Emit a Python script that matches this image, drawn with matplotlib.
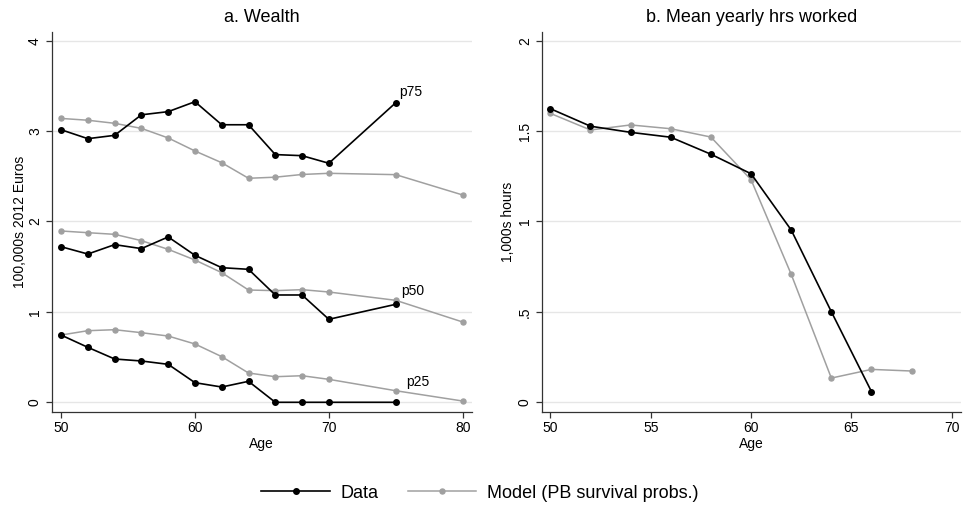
import matplotlib
matplotlib.use("Agg")
import matplotlib.pyplot as plt
from matplotlib.ticker import FixedLocator

plt.rcParams['font.family'] = ['Liberation Sans', 'DejaVu Sans']

# ---- Panel a: Wealth (100,000s 2012 Euros) ----
ages_data = [50, 52, 54, 56, 58, 60, 62, 64, 66, 68, 70, 75]
ages_model = [50, 52, 54, 56, 58, 60, 62, 64, 66, 68, 70, 75, 80]

data_p75 = [3.015, 2.916, 2.953, 3.18, 3.215, 3.325, 3.07, 3.07, 2.74, 2.728, 2.644, 3.314]
data_p50 = [1.721, 1.64, 1.744, 1.70, 1.829, 1.626, 1.489, 1.471, 1.187, 1.187, 0.918, 1.084]
data_p25 = [0.744, 0.608, 0.479, 0.457, 0.42, 0.217, 0.169, 0.232, 0.0, 0.0, 0.0, 0.0]

model_p75 = [3.14, 3.12, 3.086, 3.03, 2.924, 2.78, 2.65, 2.478, 2.49, 2.52, 2.533, 2.518, 2.293]
model_p50 = [1.895, 1.876, 1.858, 1.788, 1.692, 1.574, 1.434, 1.242, 1.235, 1.246, 1.22, 1.128, 0.888]
model_p25 = [0.744, 0.792, 0.803, 0.77, 0.733, 0.645, 0.505, 0.324, 0.283, 0.294, 0.254, 0.128, 0.014]

pct_labels = ["p75", "p50", "p25"]
pct_label_pos = [(75.24, 3.43), (75.4, 1.226), (75.74, 0.228)]

# ---- Panel b: Mean yearly hours worked (1,000s hours) ----
ages_hrs_data = [50, 52, 54, 56, 58, 60, 62, 64, 66]
hrs_data = [1.624, 1.527, 1.493, 1.466, 1.372, 1.264, 0.953, 0.501, 0.059]
ages_hrs_model = [50, 52, 54, 56, 58, 60, 62, 64, 66, 68]
hrs_model = [1.598, 1.506, 1.534, 1.513, 1.467, 1.231, 0.708, 0.134, 0.182, 0.173]

wealth_yticks = [0, 1, 2, 3, 4]
wealth_yticklabels = ["0", "1", "2", "3", "4"]
wealth_xticks = [50, 60, 70, 80]
hrs_yticks = [0, 0.5, 1, 1.5, 2]
hrs_yticklabels = ["0", ".5", "1", "1.5", "2"]
hrs_xticks = [50, 55, 60, 65, 70]

DATA_C = "#000000"
MODEL_C = "#a0a0a0"
GRID_C = "#e6e6e6"
SPINE_C = "#333333"

fig = plt.figure(figsize=(9.63, 5.08), dpi=100)
axL = fig.add_axes([51.7 / 963, 1 - 411.7 / 508, (471.7 - 51.7) / 963, (411.7 - 32) / 508])
axR = fig.add_axes([541.7 / 963, 1 - 411.7 / 508, (961 - 541.7) / 963, (411.7 - 32) / 508])


def style(ax, yticks, ylabels, xticks):
    ax.set_facecolor("white")
    for s in ["top", "right"]:
        ax.spines[s].set_visible(False)
    for s in ["left", "bottom"]:
        ax.spines[s].set_color(SPINE_C)
        ax.spines[s].set_linewidth(0.9)
    ax.yaxis.set_major_locator(FixedLocator(yticks))
    ax.set_yticklabels(ylabels, rotation=90, va="center", fontsize=10)
    ax.set_xticks(xticks)
    ax.set_xticklabels([str(x) for x in xticks], fontsize=10)
    ax.tick_params(axis="both", direction="out", length=4, width=0.9, color=SPINE_C, pad=3)
    for y in yticks:
        ax.axhline(y, color=GRID_C, lw=1.0, zorder=0)


line_kw_d = dict(color=DATA_C, lw=1.2, marker="o", ms=4.0, zorder=3)
line_kw_m = dict(color=MODEL_C, lw=1.1, marker="o", ms=3.6, zorder=2)

for mv in [model_p75, model_p50, model_p25]:
    axL.plot(ages_model, mv, **line_kw_m)
for dv in [data_p75, data_p50, data_p25]:
    axL.plot(ages_data, dv, **line_kw_d)
for lab, (x, y) in zip(pct_labels, pct_label_pos):
    axL.text(x, y, lab, fontsize=10, ha="left", va="center")

axL.set_xlim(49.3, 80.67)
axL.set_ylim(-0.104, 4.096)
style(axL, wealth_yticks, wealth_yticklabels, wealth_xticks)
axL.set_xlabel("Age", fontsize=10, labelpad=1)
axL.set_ylabel("100,000s 2012 Euros", fontsize=10, labelpad=1)
axL.set_title("a. Wealth", fontsize=13, pad=7)

mR, = axR.plot(ages_hrs_model, hrs_model, **line_kw_m)
dR, = axR.plot(ages_hrs_data, hrs_data, **line_kw_d)
axR.set_xlim(49.57, 70.46)
axR.set_ylim(-0.052, 2.048)
style(axR, hrs_yticks, hrs_yticklabels, hrs_xticks)
axR.set_xlabel("Age", fontsize=10, labelpad=1)
axR.set_ylabel("1,000s hours", fontsize=10, labelpad=2)
axR.set_title("b. Mean yearly hrs worked", fontsize=13, pad=7)

fig.legend([dR, mR], ["Data", "Model (PB survival probs.)"], loc="center",
           bbox_to_anchor=(480 / 963, 1 - 493 / 508), ncol=2, frameon=False,
           fontsize=13, handlelength=3.8, handletextpad=0.6, columnspacing=1.6)

fig.savefig("out.png", dpi=100, facecolor="white")
